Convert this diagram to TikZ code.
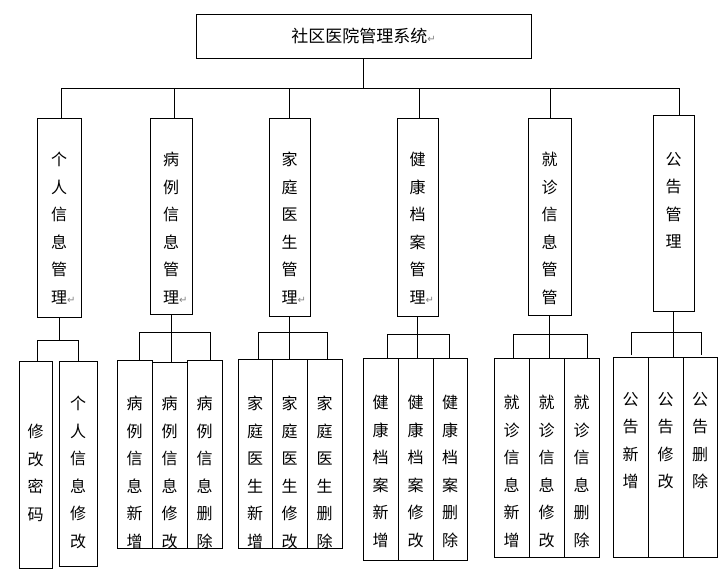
\documentclass[tikz,border=0pt]{standalone}
\usepackage{fontspec}
\newfontfamily\cjk{Noto Sans CJK SC}
\newfontfamily\dvs{DejaVu Sans}
\newcommand{\rt}{{\dvs\color{gray}\fontsize{10}{10}\selectfont ↵}}
\begin{document}
\begin{tikzpicture}[x=1pt,y=-1pt,
  bx/.style={draw,line width=0.9pt,inner sep=0pt},
  tx/.style={anchor=north,align=center,inner sep=0pt,font=\cjk\fontsize{16}{27.5}\selectfont},
  ln/.style={line width=0.9pt}]
\useasboundingbox (0,0) rectangle (728,586);
% title
\node[bx,minimum width=335,minimum height=44] (top) at (363.5,36) {};
\node[font=\cjk\fontsize{17}{18}\selectfont,inner sep=0pt] (toptxt) at (top.center) {社区医院管理系统\rt};
\newcommand{\lvb}[7]{%
  \node[bx,minimum width=#4-#2,minimum height=#5-#3] (#1) at ({(#2+#4)/2},{(#3+#5)/2}) {};
  \node[tx] (#1t) at ({(#2+#4)/2},#6) {#7};}
% level 2
\lvb{a}{37}{118}{81}{317}{152}{个\\人\\信\\息\\管\\理\rlap{\rt}}
\lvb{b}{150}{118}{192}{314}{152}{病\\例\\信\\息\\管\\理\rlap{\rt}}
\lvb{c}{269}{118}{310}{316}{152}{家\\庭\\医\\生\\管\\理\rlap{\rt}}
\lvb{d}{397}{118}{438}{316}{152}{健\\康\\档\\案\\管\\理\rlap{\rt}}
\lvb{e}{528}{118}{571}{315}{152}{就\\诊\\信\\息\\管\\管}
\lvb{f}{653}{115}{694}{311}{152}{公\\告\\管\\理}
\draw[ln] (top.south) -- (top.south |- 0,88);
\draw[ln] (61,88) coordinate (hl) -- (679,88) coordinate (hr);
\foreach \n/\xx in {a/61,b/174,c/289,d/419,e/550,f/679}{
  \draw[ln] (\xx,88) -- (\xx,0 |- \n.north);}
% level 3
\lvb{a1}{19}{361}{52}{568}{424}{修\\改\\密\\码}
\lvb{a2}{59}{361}{97}{566}{396}{个\\人\\信\\息\\修\\改}
\lvb{b1}{117}{360}{152}{548}{396}{病\\例\\信\\息\\新\\增}
\lvb{b2}{152}{362}{187}{548}{396}{病\\例\\信\\息\\修\\改}
\lvb{b3}{187}{360}{222}{548}{396}{病\\例\\信\\息\\删\\除}
\lvb{c1}{238}{359}{272}{548}{396}{家\\庭\\医\\生\\新\\增}
\lvb{c2}{272}{359}{307}{548}{396}{家\\庭\\医\\生\\修\\改}
\lvb{c3}{307}{359}{342}{548}{396}{家\\庭\\医\\生\\删\\除}
\lvb{d1}{363}{358}{398}{560}{395}{健\\康\\档\\案\\新\\增}
\lvb{d2}{398}{358}{433}{560}{395}{健\\康\\档\\案\\修\\改}
\lvb{d3}{433}{358}{467}{560}{395}{健\\康\\档\\案\\删\\除}
\lvb{e1}{494}{358}{529}{557}{395}{就\\诊\\信\\息\\新\\增}
\lvb{e2}{529}{358}{564}{557}{395}{就\\诊\\信\\息\\修\\改}
\lvb{e3}{564}{358}{599}{557}{395}{就\\诊\\信\\息\\删\\除}
\lvb{f1}{613}{357}{648}{557}{392}{公\\告\\新\\增}
\lvb{f2}{648}{357}{683}{557}{392}{公\\告\\修\\改}
\lvb{f3}{683}{357}{717}{557}{392}{公\\告\\删\\除}
% buses
\draw[ln] (a.south) -- (a.south |- 0,340);
\draw[ln] (a1.north -| 37,0) |- (78,340) -- (a2.north -| 78,0);
\draw[ln] (b.south) -- (b.south |- b2.north);
\draw[ln] (b1.north -| 139,0) |- (210,332) -- (b3.north -| 210,0);
\draw[ln] (c.south) -- (c.south |- c2.north);
\draw[ln] (c1.north -| 258,0) |- (327,332) -- (c3.north -| 327,0);
\draw[ln] (d.south) -- (d.south |- d2.north);
\draw[ln] (d1.north -| 387,0) |- (449,334) -- (d3.north -| 449,0);
\draw[ln] (e.south) -- (e.south |- e2.north);
\draw[ln] (e1.north -| 513,0) |- (587,334) -- (e3.north -| 587,0);
\draw[ln] (f.south) -- (f.south |- f2.north);
\draw[ln] (631,355) |- (701,332) -- (701,355);
\end{tikzpicture}
\end{document}
